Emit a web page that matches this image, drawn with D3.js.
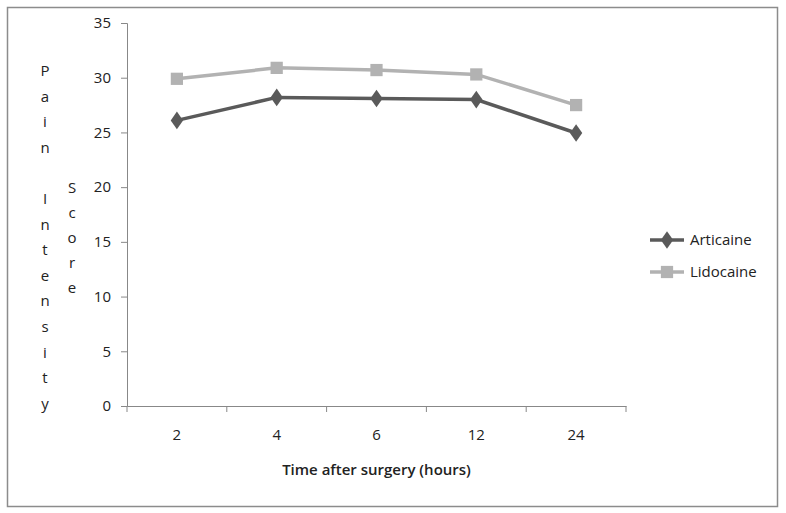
<!DOCTYPE html>
<html>
<head>
<meta charset="utf-8">
<script src="https://cdn.jsdelivr.net/npm/d3@7"></script>
<style>
  body { margin: 0; background: #fff; }
  text { font-family: "Open Sans", sans-serif; fill: #222; }
</style>
</head>
<body>
<svg id="chart" width="786" height="513"></svg>
<script>
const hours = ["2", "4", "6", "12", "24"]
const articaine = [26.1, 28.2, 28.1, 28.0, 24.95]
const lidocaine = [29.9, 30.9, 30.7, 30.3, 27.5]
const yTicks = [0, 5, 10, 15, 20, 25, 30, 35]
const seriesNames = ["Articaine", "Lidocaine"]
const colors = { Articaine: "#5a5a5a", Lidocaine: "#b2b2b2" }

const svg = d3.select("#chart")
const margin = { top: 23, left: 127 }
const width = 499
const height = 383

// outer frame
svg.append("rect")
    .attr("x", 7.5).attr("y", 7.5)
    .attr("width", 770).attr("height", 499)
    .attr("fill", "none")
    .attr("stroke", "#8c8c8c")
    .attr("stroke-width", 1.5)

const chart = svg.append("g")
    .attr("transform", `translate(${margin.left}, ${margin.top})`)

const x = d3.scaleBand().domain(hours).range([0, width])
const y = d3.scaleLinear().domain([0, 35]).range([height, 0])

// axes
const yAxis = chart.append("g")
    .call(d3.axisLeft(y).tickValues(yTicks).tickSize(6).tickPadding(10))
yAxis.select(".domain").attr("stroke", "#888")
yAxis.selectAll(".tick line").attr("stroke", "#888")
yAxis.selectAll("text").style("font-size", "15px").attr("fill", "#222")

const xAxis = chart.append("g")
    .attr("transform", `translate(0, ${height})`)
    .call(d3.axisBottom(x).tickSize(0).tickPadding(23))
xAxis.select(".domain").attr("stroke", "#888")
xAxis.selectAll("text").style("font-size", "15px").attr("fill", "#222")
// tick marks between categories
xAxis.selectAll(".sep")
    .data(hours.concat([null]))
    .enter()
    .append("line")
    .attr("x1", (d, i) => i * x.step())
    .attr("x2", (d, i) => i * x.step())
    .attr("y1", 0).attr("y2", 6)
    .attr("stroke", "#888")

// axis titles
chart.append("text")
    .attr("x", width / 2)
    .attr("y", height + 69)
    .style("text-anchor", "middle")
    .style("font-size", "15px")
    .style("font-weight", "600")
    .text("Time after surgery (hours)")

const stacked = (str, cx, cy0, step) => {
    const g = svg.append("text")
        .style("font-size", "15px")
        .style("text-anchor", "middle")
    str.split("").forEach((ch, i) => {
        g.append("tspan")
            .attr("x", cx)
            .attr("y", cy0 + i * step)
            .text(ch)
    })
}
stacked("Pain Intensity", 45, 76, 25.6)
stacked("Score", 72, 193, 25)

// lines
const seriesData = { Articaine: articaine, Lidocaine: lidocaine }
const line = d3.line()
    .x((d, i) => x(hours[i]) + x.bandwidth() / 2)
    .y(d => y(d))

const diamond = d3.symbol().type(d3.symbolDiamond).size(100)
const square = d3.symbol().type(d3.symbolSquare).size(150)

seriesNames.slice().reverse().forEach(name => {
    const vals = seriesData[name]
    chart.append("path")
        .datum(vals)
        .attr("d", line)
        .attr("fill", "none")
        .attr("stroke", colors[name])
        .attr("stroke-width", 3.5)
    chart.selectAll(".m-" + name)
        .data(vals)
        .enter()
        .append("path")
        .attr("d", name === "Articaine" ? diamond : square)
        .attr("transform", (d, i) => `translate(${x(hours[i]) + x.bandwidth() / 2}, ${y(d)})${name === "Articaine" ? " scale(1.15,0.95)" : ""}`)
        .attr("fill", colors[name])
})

// legend
const legend = svg.append("g").attr("transform", "translate(650, 240)")
seriesNames.forEach((name, i) => {
    const g = legend.append("g").attr("transform", `translate(0, ${i * 32})`)
    g.append("line")
        .attr("x1", 0).attr("x2", 34)
        .attr("stroke", colors[name])
        .attr("stroke-width", 3.5)
    g.append("path")
        .attr("d", name === "Articaine" ? diamond : square)
        .attr("transform", name === "Articaine" ? "translate(17, 0) scale(1.15,0.95)" : "translate(17, 0)")
        .attr("fill", colors[name])
    g.append("text")
        .attr("x", 40)
        .attr("y", 0)
        .attr("dy", "0.35em")
        .style("font-size", "15px")
        .text(name)
})
</script>
</body>
</html>
